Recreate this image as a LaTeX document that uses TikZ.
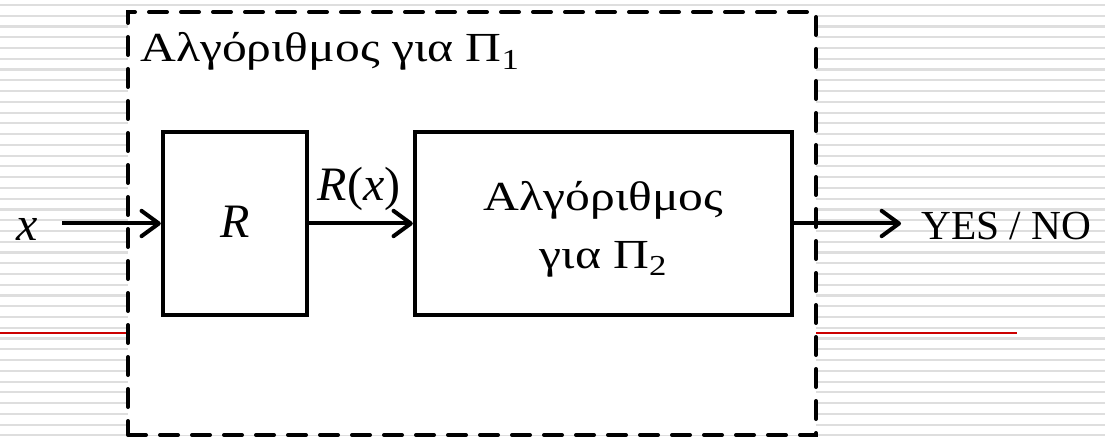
\documentclass[tikz,border=0pt]{standalone}
\usepackage{fontspec}
\setmainfont{Liberation Serif}
\newfontfamily\grfont[FakeStretch=1.2]{Liberation Serif}
\usetikzlibrary{arrows.meta}
\begin{document}
\begin{tikzpicture}[x=0.75pt,y=-0.75pt,
  bgline/.style={line width=1.6pt, black!13},
  redline/.style={line width=1.5pt, color={rgb,255:red,204;green,0;blue,0}},
  frame/.style={draw, line width=3pt, dash pattern=on 13.5pt off 10.5pt, line cap=round, fill=white, inner sep=0pt,
    minimum width=516pt, minimum height=317.25pt},
  blk/.style={draw, line width=3.2pt, inner sep=0pt, minimum height=137.25pt},
  conn/.style={line width=3pt, -{Straight Barb[length=13pt,width=19pt,round]}},
  txt/.style={font=\fontsize{31}{43.5}\selectfont, inner sep=0pt},
  grtxt/.style={font=\fontsize{31}{43.5}\selectfont\grfont, inner sep=0pt},
  itxt/.style={font=\fontsize{36}{43}\selectfont\itshape, inner sep=0pt}
]
\useasboundingbox (0,0) rectangle (1105,438);
% slide background lines
\foreach \i in {0,...,40} {
  \draw[bgline] (0,{5+10.76*\i}) -- (1105,{5+10.76*\i});
}
\draw[redline] (0,333) -- (1017,333);
% enclosing dashed frame
\node[frame] (outer) at (472,223.5) {};
\node[grtxt, anchor=base west] (title) at (140,61.5) {Αλγόριθμος για Π\textsubscript{1}};
% blocks
\node[blk, minimum width=108pt] (R) at (235,223.5) {};
\node[itxt, anchor=base] (Rlab) at (235,238) {R};
\node[blk, minimum width=282.75pt] (Alg) at (603.5,223.5) {};
\node[grtxt, align=center] (Algtext) at (603.5,229) {Αλγόριθμος\\για Π\textsubscript{2}};
% input / output
\node[itxt, anchor=base] (xin) at (27.5,240) {x};
\coordinate (xstart) at (62,223.5);
\coordinate (yend) at (901,223.5);
\node[txt, anchor=base west] (yesno) at (921,239.3) {YES / NO};
\node[itxt, anchor=base] (Rx) at (359,200) {R\upshape(\itshape x\upshape)};
% connectors
\draw[conn] (xstart) -- (R.west);
\draw[conn] (R.east) -- (Alg.west);
\draw[conn] (Alg.east) -- (yend);
\end{tikzpicture}
\end{document}
